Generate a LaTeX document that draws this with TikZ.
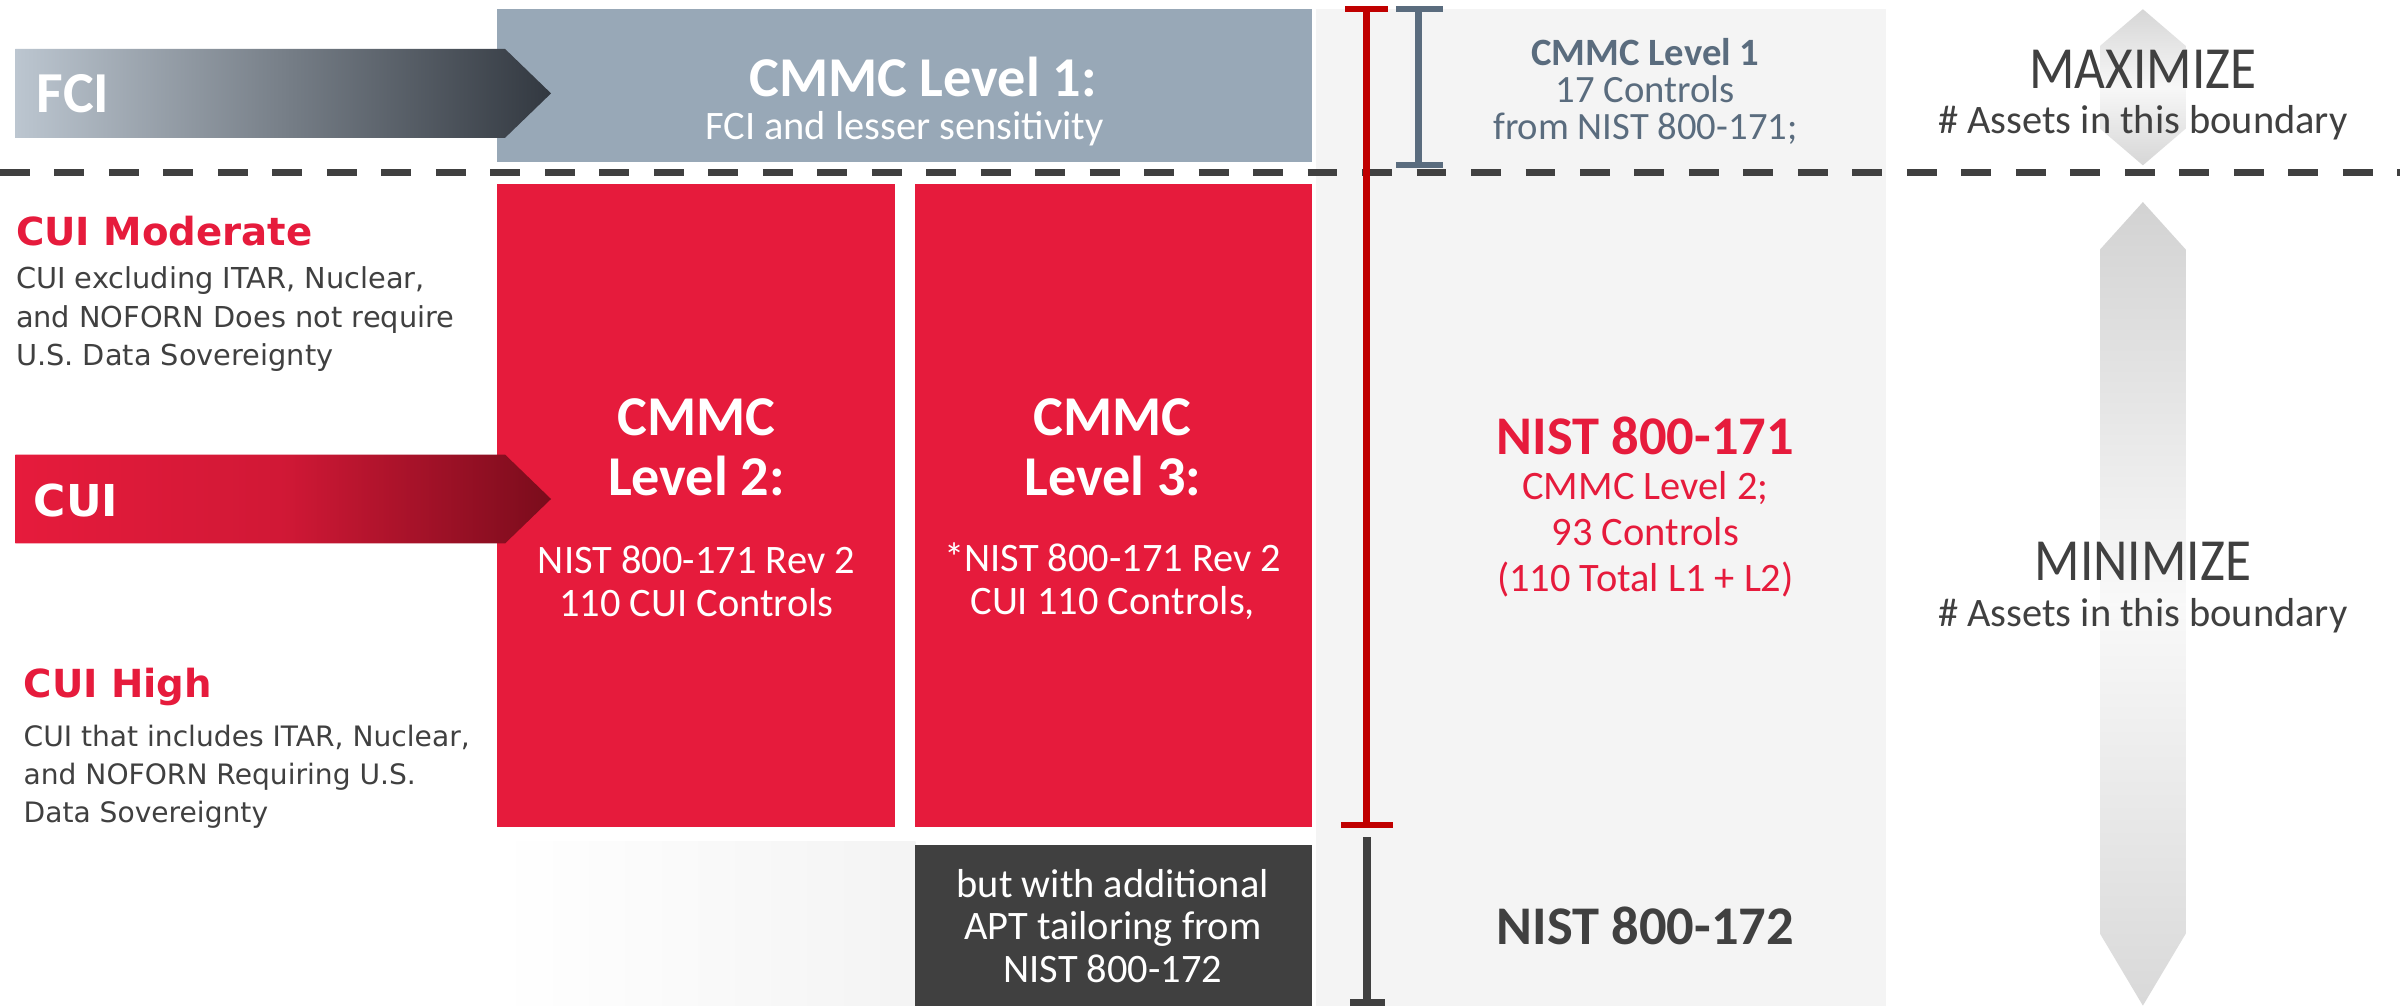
\documentclass[tikz,border=0pt]{standalone}
\usepackage{fontspec}
\setmainfont{Carlito}
\newfontfamily\verdfont{DejaVu Sans}
\newfontfamily\narrowfont[FakeStretch=0.89]{Carlito}
\usetikzlibrary{positioning}
\definecolor{cmred}{HTML}{E61B3C}
\definecolor{cuidark}{HTML}{7A0C1C}
\definecolor{slatebox}{HTML}{98A8B7}
\definecolor{slateline}{HTML}{5A6C7E}
\definecolor{darkbox}{HTML}{404040}
\definecolor{cmredline}{HTML}{C00000}
\definecolor{panelgray}{HTML}{F4F4F4}
\definecolor{fcilight}{HTML}{BCC6D0}
\definecolor{fcidark}{HTML}{323840}

\tikzset{
  boxhead/.style={text=white, font=\bfseries\fontsize{16}{17}\selectfont, align=center},
  boxbody/.style={text=white, font=\fontsize{11.5}{12.2}\selectfont, align=center},
  sidehead/.style={font=\verdfont\bfseries\fontsize{11}{13}\selectfont, text=cmred, anchor=west, inner sep=0pt},
  sidebody/.style={font=\verdfont\fontsize{8.2}{10.9}\selectfont, text=darkbox, align=left, anchor=north west, inner sep=0pt},
  rulebar/.style={line width=2pt},
  rulecap/.style={line width=1.8pt},
  goalhead/.style={font=\narrowfont\fontsize{17}{18}\selectfont, text=darkbox},
  goalbody/.style={font=\fontsize{11.5}{12}\selectfont, text=darkbox},
}

\begin{document}
\begin{tikzpicture}[x=0.015306cm, y=-0.015306cm]
		\useasboundingbox (0,0) rectangle (1568,657);
		\fill[white] (0,0) rectangle (1568,657);
		%Backgrounds
		\fill[panelgray] (860,6) rectangle (1232,657);
		\shade[left color=white, right color=gray!9] (325,550) rectangle (598,657);
		\shade[top color=gray!32, bottom color=gray!32, middle color=gray!6]
		(1400,6) -- (1428,30) -- (1428,84) -- (1400,108) -- (1372,84) -- (1372,30) -- cycle;
		\shade[top color=gray!35, bottom color=gray!30, middle color=gray!5]
		(1400,132) -- (1428,163) -- (1428,610) -- (1400,657) -- (1372,610) -- (1372,163) -- cycle;
		%Level boxes
		\fill[slatebox] (325,6) rectangle (857,106);
		\fill[cmred] (325,120) rectangle (585,540);
		\fill[cmred] (598,120) rectangle (857,540);
		\fill[darkbox] (598,552) rectangle (857,657);
		%Arrows
		\shade[left color=fcilight, right color=fcidark] (10,32) -- (330,32) -- (360,61) -- (330,90) -- (10,90) -- cycle;
		\shade[left color=cmred, right color=cuidark, middle color=cmred!80!cuidark] (10,297) -- (330,297) -- (360,326) -- (330,355) -- (10,355) -- cycle;
		\node[font=\bfseries\fontsize{16.5}{18}\selectfont, text=white, anchor=west] (fci) at (16,61) {FCI};
		\node[font=\verdfont\bfseries\fontsize{12.5}{14}\selectfont, text=white, anchor=west] (cui) at (14,327) {CUI};
		%Boundary
		\coordinate (dashl) at (0,113);
		\coordinate (dashr) at (1568,113);
		\draw[darkbox, line width=2pt, dash pattern=on 8.5pt off 7pt] (dashl) -- (dashr);
		%Scope rules
		\coordinate (redtop) at (893,6);
		\coordinate (redbot) at (893,539);
		\coordinate (graytop) at (893,547);
		\coordinate (graybot) at (893,655);
		\coordinate (slatetop) at (927,6);
		\coordinate (slatebot) at (927,108);
		\draw[rulebar, cmredline] (redtop) -- (redbot);
		\draw[rulecap, cmredline] (redtop) ++(-14,0) -- ++(28,0);
		\draw[rulecap, cmredline] (redbot) ++(-17,0) -- ++(34,0);
		\draw[line width=2.4pt, darkbox] (graytop) -- (graybot);
		\draw[rulecap, darkbox] (graybot) ++(-11,0) -- ++(23,0);
		\draw[rulebar, slateline] (slatetop) -- (slatebot);
		\draw[rulecap, slateline] (slatetop) ++(-15,0) -- ++(31,0);
		\draw[rulecap, slateline] (slatebot) ++(-15,0) -- ++(31,0);
		%Box texts
		\node[boxhead] (l1head) at (603,50) {CMMC Level 1:};
		\node[boxbody] (l1body) at (591,84) {FCI and lesser sensitivity};
		\node[boxhead] (l2head) at (455,292) {CMMC\\Level 2:};
		\node[boxbody] (l2body) at (455,380) {NIST 800-171 Rev 2\\110 CUI Controls};
		\node[boxhead] (l3head) at (727,292) {CMMC\\Level 3:};
		\node[boxbody] (l3body) at (727,380) {*NIST 800-171 Rev 2\\CUI 110 Controls,};
		\node[boxbody] (aptbody) at (727,605) {but with additional\\APT tailoring from\\NIST 800-172};
		%Left side
		\node[sidehead] (cuimod) at (10,151) {CUI Moderate};
		\node[sidebody] (cuimodtxt) at (10,174) {CUI excluding ITAR, Nuclear,\\and NOFORN Does not require\\U.S. Data Sovereignty};
		\node[sidehead] (cuihigh) at (15,449) {CUI High};
		\node[sidebody, font=\verdfont\fontsize{8}{10.9}\selectfont] (cuihightxt) at (15,473) {CUI that includes ITAR, Nuclear,\\and NOFORN Requiring U.S.\\Data Sovereignty};
		%Right column
		\node[font=\bfseries\fontsize{11}{12}\selectfont, text=slateline] (r1head) at (1075,34) {CMMC Level 1};
		\node[font=\fontsize{11}{10.5}\selectfont, text=slateline, align=center] (r1body) at (1075,72) {17 Controls\\from NIST 800-171;};
		\node[font=\bfseries\fontsize{15.5}{17}\selectfont, text=cmred] (r2head) at (1075,285) {NIST 800-171};
		\node[font=\fontsize{11.5}{13}\selectfont, text=cmred, align=center] (r2body) at (1075,349) {CMMC Level 2;\\93 Controls\\(110 Total L1 + L2)};
		\node[font=\bfseries\fontsize{15.5}{17}\selectfont, text=darkbox] (r3head) at (1075,605) {NIST 800-172};
		\node[goalhead] (maxhead) at (1400,45) {MAXIMIZE};
		\node[goalbody] (maxbody) at (1400,80) {\# Assets in this boundary};
		\node[goalhead] (minhead) at (1400,367) {MINIMIZE};
		\node[goalbody] (minbody) at (1400,402) {\# Assets in this boundary};
\end{tikzpicture}
\end{document}
